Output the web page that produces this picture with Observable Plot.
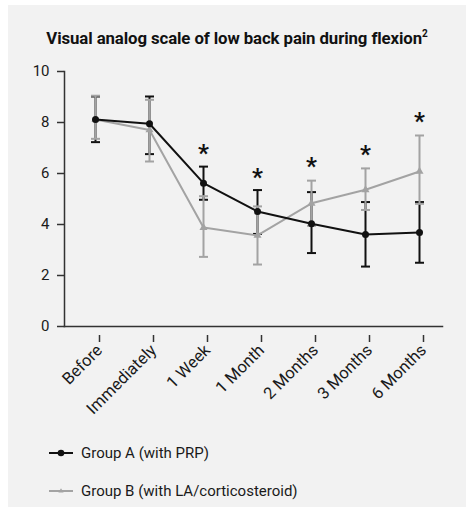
<!DOCTYPE html>
<html>
<head>
<meta charset="utf-8">
<script src="https://cdn.jsdelivr.net/npm/d3@7"></script>
<script src="https://cdn.jsdelivr.net/npm/@observablehq/plot@0.6"></script>
<style>
  body { margin: 0; background: #ffffff; font-family: Roboto, "Noto Sans", sans-serif; }
  #panel { position: absolute; left: 8px; top: 5px; width: 458px; height: 502px; background: #f2f2f2; }
  #title { position: absolute; left: 0; top: 23px; width: 458px; text-align: center; font-weight: 700; font-size: 16.8px; color: #111; letter-spacing: -0.1px; }
  #title sup { font-size: 10px; vertical-align: 7px; line-height: 0; }
  #chart { position: absolute; left: 0; top: 50px; }
  .leg { position: absolute; left: 40px; height: 20px; display: flex; align-items: center; font-size: 15px; color: #1a1a1a; }
  .leg svg { margin-right: 7px; }
</style>
</head>
<body>
<div id="panel">
  <div id="title">Visual analog scale of low back pain during flexion<sup>2</sup></div>
  <div id="chart"></div>
  <div class="leg" style="top:438px">
    <svg width="26" height="10"><line x1="1" x2="25" y1="5" y2="5" stroke="#111" stroke-width="2"/><circle cx="13" cy="5" r="3.3" fill="#111"/></svg>
    <span>Group A (with PRP)</span>
  </div>
  <div class="leg" style="top:476px">
    <svg width="26" height="10"><line x1="1" x2="25" y1="5" y2="5" stroke="#a3a3a3" stroke-width="2"/><path d="M13,2.2 L15.6,6.6 L10.4,6.6 Z" fill="#a3a3a3"/></svg>
    <span>Group B (with LA/corticosteroid)</span>
  </div>
</div>
<script>
const categories = ["Before", "Immediately", "1 Week", "1 Month", "2 Months", "3 Months", "6 Months"];
const groupAMean = [8.12, 7.95, 5.62, 4.51, 4.03, 3.61, 3.69];
const groupALow  = [7.23, 6.76, 4.97, 3.63, 2.88, 2.35, 2.50];
const groupAHigh = [9.02, 9.02, 6.27, 5.35, 5.27, 4.88, 4.88];
const groupBMean = [8.12, 7.71, 3.88, 3.57, 4.83, 5.36, 6.08];
const groupBLow  = [7.36, 6.47, 2.73, 2.43, 3.95, 4.57, 4.81];
const groupBHigh = [9.05, 8.89, 5.11, 4.71, 5.72, 6.20, 7.49];
const sigCategories = ["1 Week", "1 Month", "2 Months", "3 Months", "6 Months"];
const sigY = [7.03, 6.08, 6.50, 6.98, 8.27];
const yTicks = [0, 2, 4, 6, 8, 10];

const A = categories.map((c, i) => ({cat: c, mean: groupAMean[i], lo: groupALow[i], hi: groupAHigh[i]}));
const B = categories.map((c, i) => ({cat: c, mean: groupBMean[i], lo: groupBLow[i], hi: groupBHigh[i]}));
const caps = (d) => d.flatMap(r => [{cat: r.cat, v: r.lo}, {cat: r.cat, v: r.hi}]);
const sig = sigCategories.map((c, i) => ({cat: c, y: sigY[i]}));

const hbar = { draw(context, size) { const w = Math.sqrt(size / Math.PI); context.moveTo(-w, 0); context.lineTo(w, 0); } };

const BLACK = "#111111", GRAY = "#a3a3a3";

const chart = Plot.plot({
  width: 458,
  height: 375,
  marginTop: 16,
  marginBottom: 104,
  marginLeft: 56,
  marginRight: 24,
  style: { background: "transparent", fontFamily: "Roboto, 'Noto Sans', sans-serif", fontSize: "14px", color: "#1a1a1a" },
  x: { type: "point", domain: categories, range: [84.7, 413.7], padding: 0, label: null },
  y: { domain: [0, 10], label: null },
  marks: [
    Plot.axisY({ ticks: yTicks, tickSize: 7, tickPadding: 8, fontSize: 15, stroke: "#333", strokeWidth: 1.5, label: null }),
    Plot.axisX({ tickSize: 7, tickPadding: 5, tickRotate: -45, fontSize: 16.5, dx: 4, dy: 9, stroke: "#333", strokeWidth: 1.5, label: null }),
    Plot.frame({ anchor: "left", stroke: "#333", strokeWidth: 1.5 }),
    Plot.frame({ anchor: "bottom", stroke: "#333", strokeWidth: 1.5 }),
    Plot.ruleX(A, { x: "cat", y1: "lo", y2: "hi", stroke: BLACK, strokeWidth: 2 }),
    Plot.dot(caps(A), { x: "cat", y: "v", symbol: hbar, r: 4.5, stroke: BLACK, strokeWidth: 2, fill: "none" }),
    Plot.ruleX(B, { x: "cat", y1: "lo", y2: "hi", stroke: GRAY, strokeWidth: 2 }),
    Plot.dot(caps(B), { x: "cat", y: "v", symbol: hbar, r: 4.5, stroke: GRAY, strokeWidth: 2, fill: "none" }),
    Plot.line(B, { x: "cat", y: "mean", stroke: GRAY, strokeWidth: 2 }),
    Plot.dot(B, { x: "cat", y: "mean", symbol: "triangle", r: 3, fill: GRAY }),
    Plot.line(A, { x: "cat", y: "mean", stroke: BLACK, strokeWidth: 2 }),
    Plot.dot(A, { x: "cat", y: "mean", r: 3.5, fill: BLACK }),
    Plot.text(sig, { x: "cat", y: "y", text: () => "*", fontSize: 24, fontWeight: 700, fill: BLACK, dy: 6 })
  ]
});
document.getElementById("chart").appendChild(chart);
</script>
</body>
</html>
